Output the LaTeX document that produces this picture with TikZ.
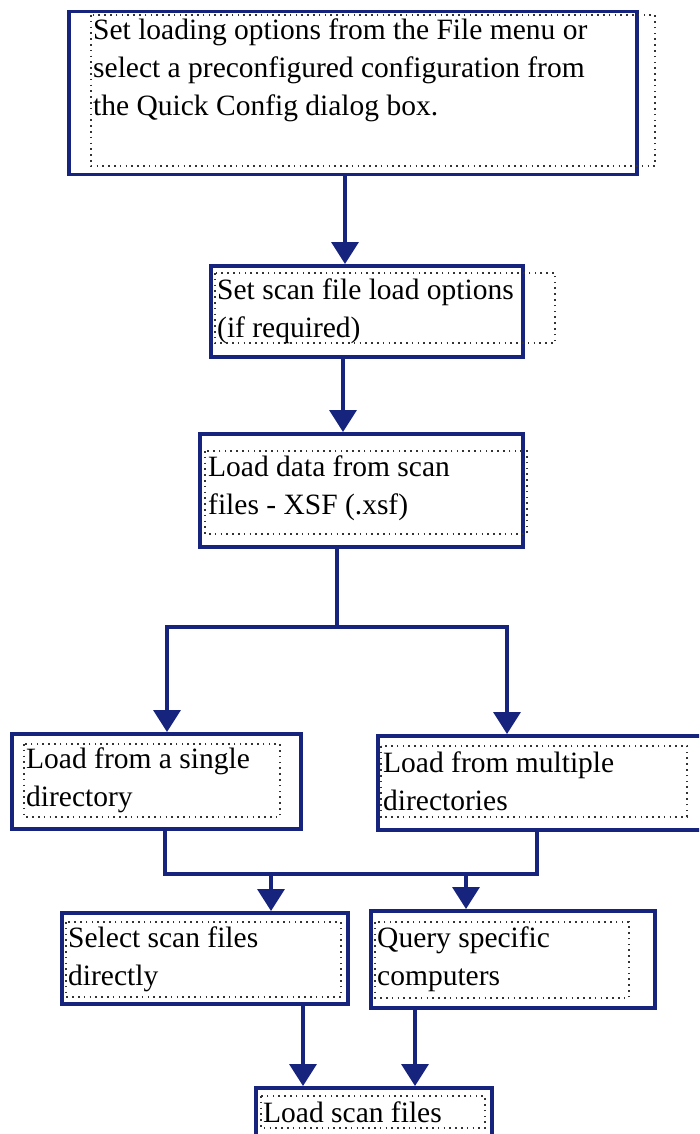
\documentclass[tikz,border=0pt]{standalone}
\usepackage{fontspec}
\setmainfont{Liberation Serif}
\usetikzlibrary{arrows.meta,calc}
\definecolor{navy}{RGB}{22,36,125}
\tikzset{
  solidbox/.style={draw=navy, line width=3.5pt, fill=none, anchor=north west, inner sep=0pt},
  dotbox/.style={draw=black!80, line width=1.6pt, dash pattern=on 1.6pt off 4.2pt},
  txt/.style={anchor=base west, align=left, inner sep=0pt, font=\fontsize{29.5}{38}\selectfont},
  conn/.style={draw=navy, line width=3.5pt},
  arr/.style={conn, -{Triangle[width=27pt,length=22pt]}}
}
\begin{document}
\begin{tikzpicture}[x=1pt,y=-1pt]
\clip (0,0) rectangle (699,1134);
\fill[white] (0,0) rectangle (699,1134);
% solid boxes
\node[solidbox, minimum width=568pt, minimum height=163pt] (b1) at (67,10) {};
\node[solidbox, minimum width=312pt, minimum height=91pt] (b2) at (209,264) {};
\node[solidbox, minimum width=323pt, minimum height=113pt] (b3) at (198,432) {};
\node[solidbox, minimum width=289pt, minimum height=95pt] (b4) at (10,732) {};
\node[solidbox, minimum width=340pt, minimum height=94pt] (b5) at (376,734) {};
\node[solidbox, minimum width=286pt, minimum height=91pt] (b6) at (60,911) {};
\node[solidbox, minimum width=284pt, minimum height=97pt] (b7) at (369,909) {};
\node[solidbox, minimum width=236pt, minimum height=80pt] (b8) at (254,1086) {};
% dotted text frames
\draw[dotbox] (91,15) rectangle (655,166);
\draw[dotbox] (215,273) rectangle (555,343);
\draw[dotbox] (205,451) rectangle (527,534);
\draw[dotbox] (24,744) rectangle (280,817);
\draw[dotbox] (381,746) rectangle (687,817);
\draw[dotbox] (66,922) rectangle (341,997);
\draw[dotbox] (375,922) rectangle (629,998);
\draw[dotbox] (261,1096) rectangle (485,1128);
% texts (anchored at the baseline of the last line)
\node[txt] (t1) at (93,116) {Set loading options from the File menu or\\select a preconfigured configuration from\\the Quick Config dialog box.};
\node[txt] (t2) at (217,337) {Set scan file load options\\(if required)};
\node[txt] (t3) at (208,514) {Load data from scan\\files - XSF (.xsf)};
\node[txt] (t4) at (26,806) {Load from a single\\directory};
\node[txt] (t5) at (383,810) {Load from multiple\\directories};
\node[txt] (t6) at (68,985) {Select scan files\\directly};
\node[txt] (t7) at (377,985) {Query specific\\computers};
\node[txt] (t8) at (263,1122) {Load scan files};
% connector coordinates
\coordinate (x1) at (345,0);
\coordinate (x2) at (343,0);
\coordinate (x3) at (337,0);
\coordinate (j1) at (337,627);
\coordinate (jl) at (167,627);
\coordinate (jr) at (507,627);
\coordinate (x4) at (165,0);
\coordinate (x5) at (537,0);
\coordinate (kl) at (165,874);
\coordinate (kr) at (537,874);
\coordinate (k6) at (271,874);
\coordinate (k7) at (466,874);
\coordinate (x6) at (303,0);
\coordinate (x7) at (415,0);
% connectors
\draw[arr] (b1.south -| x1) -- (b2.north -| x1);
\draw[arr] (b2.south -| x2) -- (b3.north -| x2);
\draw[conn] (b3.south -| x3) -- (j1);
\draw[conn, line cap=rect] (jl) -- (jr);
\draw[arr] (jl) -- (b4.north -| jl);
\draw[arr] (jr) -- (b5.north -| jr);
\draw[conn, line join=miter] (b4.south -| x4) -- (kl) -- (kr) -- (b5.south -| x5);
\draw[arr] (k6) -- (b6.north -| k6);
\draw[arr] (k7) -- (b7.north -| k7);
\draw[arr] (b6.south -| x6) -- (b8.north -| x6);
\draw[arr] (b7.south -| x7) -- (b8.north -| x7);
\end{tikzpicture}
\end{document}
